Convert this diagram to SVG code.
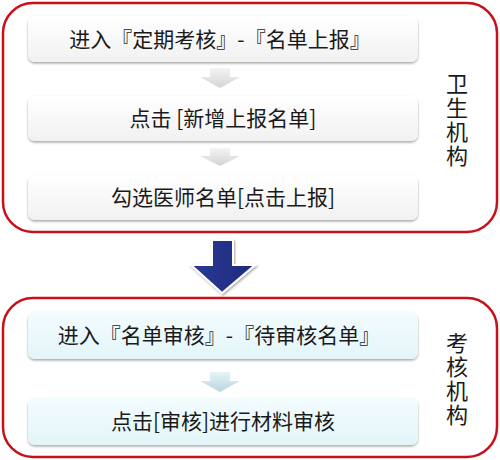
<svg xmlns="http://www.w3.org/2000/svg" width="500" height="460" viewBox="0 0 500 460">
<defs>
<linearGradient id="gGray" x1="0" y1="0" x2="0" y2="1">
<stop offset="0" stop-color="#ffffff"/><stop offset="1" stop-color="#f1f1f1"/>
</linearGradient>
<linearGradient id="gCyan" x1="0" y1="0" x2="0" y2="1">
<stop offset="0" stop-color="#f3fcfe"/><stop offset="1" stop-color="#e3f5f9"/>
</linearGradient>
<linearGradient id="gSmallGray" x1="0" y1="0" x2="0" y2="1">
<stop offset="0" stop-color="#f4f4f4"/><stop offset="1" stop-color="#d4d4d4"/>
</linearGradient>
<linearGradient id="gSmallCyan" x1="0" y1="0" x2="0" y2="1">
<stop offset="0" stop-color="#e6f3f6"/><stop offset="1" stop-color="#b9d6df"/>
</linearGradient>
<linearGradient id="gBlue" x1="0" y1="0" x2="1" y2="0">
<stop offset="0" stop-color="#2a3a92"/><stop offset="1" stop-color="#1f2a80"/>
</linearGradient>
<filter id="sh" x="-10%" y="-20%" width="120%" height="150%">
<feDropShadow dx="0" dy="1.5" stdDeviation="1.2" flood-color="#000" flood-opacity="0.35"/>
</filter>
<filter id="sh2" x="-20%" y="-20%" width="140%" height="140%">
<feDropShadow dx="1" dy="1.5" stdDeviation="1.2" flood-color="#000" flood-opacity="0.35"/>
</filter>
</defs>
<style>
.group{fill:#ffffff;stroke:#c8101a;stroke-width:2.5}
.node{stroke:none;filter:url(#sh)}
.t{font-family:"Noto Sans CJK SC","Noto Sans",sans-serif;font-size:21px;fill:#1a1a1a;text-anchor:middle}
.v{font-family:"Noto Sans CJK SC","Noto Sans",sans-serif;font-size:22px;fill:#1a1a1a;text-anchor:middle;writing-mode:vertical-rl;text-orientation:upright;letter-spacing:2px}
</style>
<g id="group-health">
<rect class="group" x="3" y="3" width="494" height="229" rx="30"/>
<text class="v" x="457" y="121">卫生机构</text>
</g>
<g id="group-exam">
<rect class="group" x="3" y="298" width="494" height="159" rx="30"/>
<text class="v" x="457" y="380">考核机构</text>
</g>
<g id="connectors">
<path d="M210,68 H230 V77 H240 L220,88 L200,77 H210 Z" fill="url(#gSmallGray)"/>
<path d="M210,148 H230 V156 H240 L220,166 L200,156 H210 Z" fill="url(#gSmallGray)"/>
<path d="M210,372 H230 V381 H240 L220,392 L200,381 H210 Z" fill="url(#gSmallCyan)"/>
<path d="M212,240 H233 V265 H255 L222,293 L191,265 H212 Z" fill="url(#gBlue)" stroke="#ffffff" stroke-width="2" filter="url(#sh2)"/>
</g>
<g id="node1">
<rect class="node" x="28" y="16" width="390" height="46" rx="7" fill="url(#gGray)"/>
<text class="t" x="220" y="47">进入『定期考核』-『名单上报』</text>
</g>
<g id="node2">
<rect class="node" x="28" y="96" width="390" height="45" rx="7" fill="url(#gGray)"/>
<text class="t" x="223" y="126">点击 [新增上报名单]</text>
</g>
<g id="node3">
<rect class="node" x="28" y="175" width="390" height="45" rx="7" fill="url(#gGray)"/>
<text class="t" x="223" y="205">勾选医师名单[点击上报]</text>
</g>
<g id="node4">
<rect class="node" x="28" y="312" width="390" height="47" rx="7" fill="url(#gCyan)"/>
<text class="t" x="219" y="343">进入『名单审核』-『待审核名单』</text>
</g>
<g id="node5">
<rect class="node" x="28" y="398" width="390" height="47" rx="7" fill="url(#gCyan)"/>
<text class="t" x="223" y="429">点击[审核]进行材料审核</text>
</g>
</svg>
